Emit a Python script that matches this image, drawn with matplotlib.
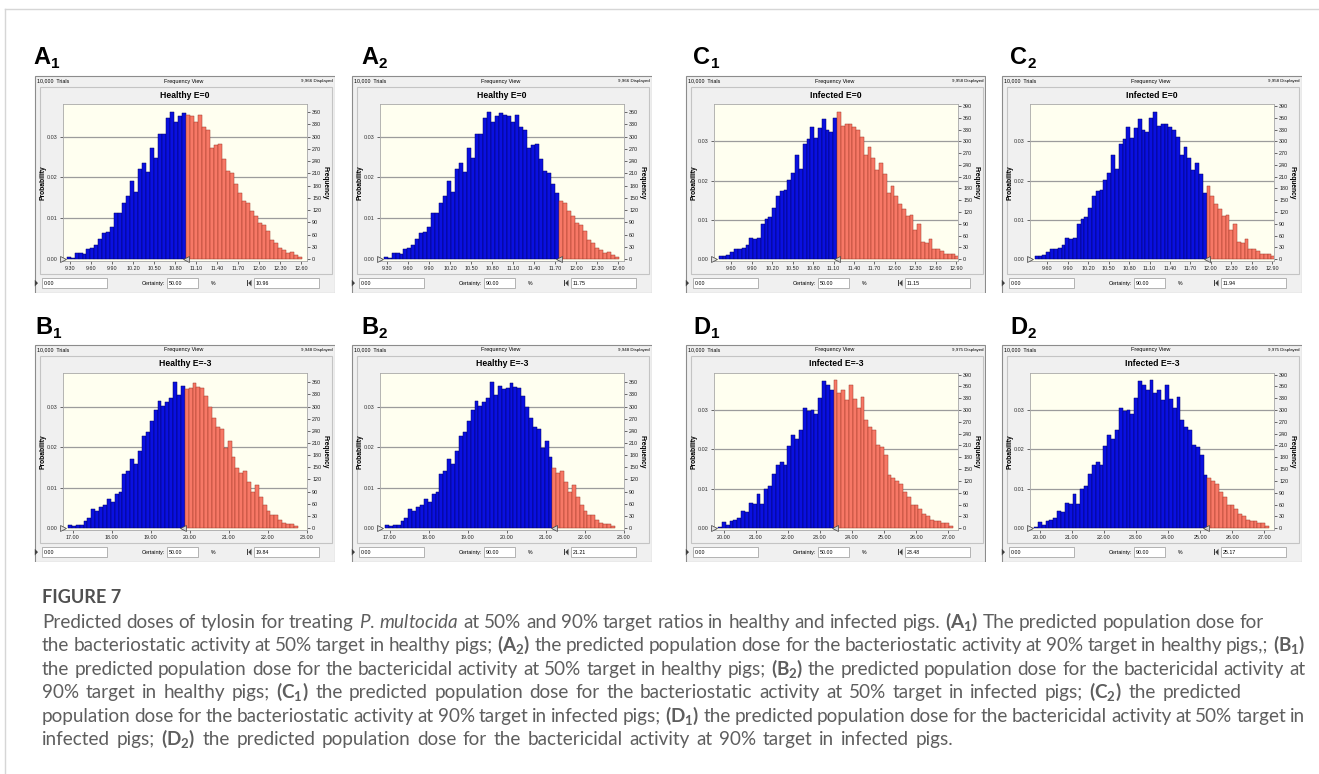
import matplotlib
matplotlib.use("Agg")
import matplotlib.pyplot as plt
from matplotlib import font_manager as fm
from matplotlib.lines import Line2D
from matplotlib.patches import Rectangle, Polygon
from matplotlib.ticker import FormatStrFormatter

healthy_e0 = [4, 3, 15, 16, 13, 24, 28, 35, 48, 63, 66, 78, 112, 112, 138, 155, 191, 165, 221, 235,
              213, 272, 248, 306, 306, 346, 360, 337, 350, 358,
              352, 350, 337, 352, 323, 316, 272, 280, 281, 246, 216, 212, 185, 163, 143, 138, 117,
              105, 89, 84, 70, 46, 40, 28, 21, 16, 18, 10, 4]
healthy_e0_bins = (9.25, 0.057)      # first bin edge, bin width

healthy_em3 = [7, 5, 7, 8, 17, 24, 46, 42, 52, 57, 72, 64, 85, 89, 134, 141, 171, 159, 190, 227,
               237, 264, 291, 315, 301, 311, 322, 362, 328, 350,
               343, 346, 358, 348, 346, 325, 298, 272, 250, 245, 198, 214, 176, 148, 137, 142, 115,
               90, 106, 76, 57, 43, 33, 32, 19, 13, 9, 10, 5]
healthy_em3_bins = (16.875, 0.1)

infected_e0 = [7, 8, 10, 17, 25, 27, 28, 36, 53, 52, 55, 90, 102, 108, 129, 162, 174, 175, 202, 219,
               264, 229, 294, 305, 336, 308, 333, 356, 329, 324, 360,
               375, 339, 343, 345, 337, 328, 311, 264, 286, 258, 227, 244, 216, 168, 185, 161, 141,
               127, 110, 113, 74, 89, 44, 41, 51, 25, 25, 21, 14, 12, 14, 7]
infected_e0_bins = (9.415, 0.056)

infected_em3 = [4, 16, 8, 17, 21, 25, 44, 41, 65, 62, 87, 62, 99, 108, 137, 161, 169, 161, 209, 236,
                227, 250, 305, 297, 299, 290, 330, 373, 364, 352,
                375, 343, 350, 326, 364, 328, 305, 333, 275, 258, 250, 210, 206, 186, 136, 127, 119,
                113, 93, 79, 59, 59, 49, 36, 31, 20, 18, 19, 12, 12, 6]
infected_em3_bins = (19.826, 0.12)

trials = 10000
displayed = {"healthy_e0": "9,966", "healthy_em3": "9,948", "infected_e0": "9,958", "infected_em3": "9,975"}
titles = {"healthy_e0": "Healthy E=0", "healthy_em3": "Healthy E=-3",
          "infected_e0": "Infected E=0", "infected_em3": "Infected E=-3"}
xticks = {"healthy_e0": [9.30 + 0.3 * i for i in range(12)],
          "infected_e0": [9.60 + 0.3 * i for i in range(12)],
          "healthy_em3": [17.0 + i for i in range(7)],
          "infected_em3": [20.0 + i for i in range(8)]}
xlims = {"healthy_e0": (9.195, 12.69), "infected_e0": (9.34, 12.93),
         "healthy_em3": (16.74, 23.02), "infected_em3": (19.69, 27.31)}
freq_ticks = {"healthy_e0": list(range(0, 361, 30)), "healthy_em3": list(range(0, 361, 30)),
              "infected_e0": list(range(0, 391, 30)), "infected_em3": list(range(0, 391, 30))}
ytops = {"healthy_e0": 380, "healthy_em3": 383, "infected_e0": 395, "infected_em3": 394}
prob_ticks = [0.00, 0.01, 0.02, 0.03]

# panel tag, subscript, dataset, certainty (%), cut value
panels = [("A", "1", "healthy_e0", "50.00", 10.96), ("A", "2", "healthy_e0", "90.00", 11.75),
          ("C", "1", "infected_e0", "50.00", 11.15), ("C", "2", "infected_e0", "90.00", 11.94),
          ("B", "1", "healthy_em3", "50.00", 19.84), ("B", "2", "healthy_em3", "90.00", 21.21),
          ("D", "1", "infected_em3", "50.00", 23.48), ("D", "2", "infected_em3", "90.00", 25.17)]
data = {"healthy_e0": (healthy_e0, healthy_e0_bins), "healthy_em3": (healthy_em3, healthy_em3_bins),
        "infected_e0": (infected_e0, infected_e0_bins), "infected_em3": (infected_em3, infected_em3_bins)}

caption_title = "FIGURE 7"
caption_lines = [
    "Predicted doses of tylosin for treating $\\mathit{P.}$ $\\mathit{multocida}$ at 50% and 90% target ratios in healthy and infected pigs. $\\mathbf{(A_1)}$ The predicted population dose for",
    "the bacteriostatic activity at 50% target in healthy pigs; $\\mathbf{(A_2)}$ the predicted population dose for the bacteriostatic activity at 90% target in healthy pigs,; $\\mathbf{(B_1)}$",
    "the predicted population dose for the bactericidal activity at 50% target in healthy pigs; $\\mathbf{(B_2)}$ the predicted population dose for the bactericidal activity at",
    "90% target in healthy pigs; $\\mathbf{(C_1)}$ the predicted population dose for the bacteriostatic activity at 50% target in infected pigs; $\\mathbf{(C_2)}$ the predicted",
    "population dose for the bacteriostatic activity at 90% target in infected pigs; $\\mathbf{(D_1)}$ the predicted population dose for the bactericidal activity at 50% target in",
    "infected pigs; $\\mathbf{(D_2)}$ the predicted population dose for the bactericidal activity at 90% target in infected pigs.",
]
line_ends = [1264, 1305, 1305, 1241, 1305, 953]

# ---------------------------------------------------------------------------
names = {f.name for f in fm.fontManager.ttflist}
cap_font = next((n for n in ["Lato", "Open Sans", "Noto Sans", "Liberation Sans"] if n in names),
                "DejaVu Sans")
ui_font = "Liberation Sans" if "Liberation Sans" in names else "DejaVu Sans"
plt.rcParams["font.family"] = [ui_font, "DejaVu Sans"]
plt.rcParams["mathtext.fontset"] = "custom"
plt.rcParams["mathtext.rm"] = cap_font
plt.rcParams["mathtext.it"] = cap_font + ":italic"
plt.rcParams["mathtext.bf"] = cap_font + ":bold"

W, H = 1319, 774
fig = plt.figure(figsize=(W / 100, H / 100), dpi=100)
fig.patch.set_facecolor("white")


def rect(x, y, w, h):
    return [x / W, 1 - (y + h) / H, w / W, h / H]


# outer frame of the figure
fig.add_artist(Line2D([5 / W, 1], [1 - 9 / H, 1 - 9 / H], color="#D6D6D6", lw=1))
fig.add_artist(Line2D([5 / W, 5 / W], [0, 1 - 9 / H], color="#D6D6D6", lw=1))

col_x = {"A": [34, 351], "C": [685, 1001], "B": [34, 351], "D": [685, 1001]}
row_y = {"A": 75, "C": 75, "B": 344, "D": 344}
BLUE, BLUE_E = "#0A10E0", "#000066"
RED, RED_E = "#F77866", "#A03828"

for tag, sub, key, cert, cut in panels:
    x0 = col_x[tag][int(sub) - 1]
    y0 = row_y[tag]
    ww, wh = 301, 218
    counts, (start, width) = data[key]

    bg = fig.add_axes(rect(x0, y0, ww, wh))
    bg.set_xlim(0, ww)
    bg.set_ylim(wh, 0)
    bg.axis("off")
    bg.add_patch(Rectangle((0.5, 0.5), ww - 1, wh - 1, fc="#F0F0F0", ec="#8C8C8C", lw=0.8))
    bg.add_patch(Rectangle((6, 11.7), 292, 187.3, fc="#F0F0F0", ec="#C4C4C4", lw=0.8))
    bg.text(2.7, 6, "{:,}  Trials".format(trials), fontsize=3.8, va="center", ha="left")
    bg.text(150, 6, "Frequency View", fontsize=4.0, va="center", ha="center")
    bg.text(298.5, 6, displayed[key] + " Displayed", fontsize=3.2, va="center", ha="right")
    bg.text(151, 20, titles[key], fontsize=6.2, weight="bold", va="center", ha="center")
    bg.text(9.3, 108, "Probability", rotation=90, fontsize=4.8, weight="bold", va="center", ha="center")
    bg.text(291, 108, "Frequency", rotation=270, fontsize=4.8, weight="bold", va="center", ha="center")

    for bx0, bx1, txt in [(7.7, 72.7, "0.00"), (132.7, 164.3, cert), (220, 285.3, "%.2f" % cut)]:
        bg.add_patch(Rectangle((bx0, 203), bx1 - bx0, 10, fc="white", ec="#A8A8A8", lw=0.6))
        bg.text(bx0 + 2, 208.2, txt, fontsize=3.8, va="center", ha="left")
    bg.text(131, 208.2, "Certainty:", fontsize=4.0, va="center", ha="right")
    bg.text(179.3, 208.2, "%", fontsize=3.8, va="center", ha="center")
    bg.add_patch(Polygon([[0.8, 204.8], [0.8, 211.4], [4.0, 208.1]], fc="#404040", ec="none"))
    bg.add_patch(Polygon([[217.5, 204.8], [217.5, 211.4], [214.3, 208.1]], fc="#404040", ec="none"))
    bg.add_patch(Rectangle((213.3, 204.8), 0.7, 6.6, fc="#404040", ec="none"))

    ax = fig.add_axes(rect(x0 + 28.7, y0 + 29, 244.6, 156.7))
    ax.set_facecolor("#FFFFF0")
    lefts = [start + i * width for i in range(len(counts))]
    red = [l + width / 2 > cut for l in lefts]
    ax.bar(lefts, counts, width=width, align="edge",
           color=[RED if r else BLUE for r in red],
           edgecolor=[RED_E if r else BLUE_E for r in red], linewidth=0.35, zorder=2)
    for q in prob_ticks[1:]:
        ax.axhline(q * trials, color="#9C9C9C", lw=0.9, zorder=0.5)
    ax.set_xlim(*xlims[key])
    ax.set_ylim(-4, ytops[key])
    ax.set_xticks(xticks[key])
    ax.xaxis.set_major_formatter(FormatStrFormatter("%.2f"))
    ax.yaxis.tick_right()
    ax.set_yticks(freq_ticks[key])
    ax.tick_params(axis="both", labelsize=3.9, length=2, width=0.5, pad=1.5,
                   colors="#303030", labelcolor="#202020")
    for s in ax.spines.values():
        s.set_color("#A8A8A8")
        s.set_linewidth(0.6)
    sec = ax.secondary_yaxis("left", functions=(lambda f: f / trials, lambda q: q * trials))
    sec.set_yticks(prob_ticks)
    sec.yaxis.set_major_formatter(FormatStrFormatter("%.2f"))
    sec.tick_params(labelsize=3.9, length=2, width=0.5, pad=1.5, colors="#303030")
    sec.spines["left"].set_visible(False)
    ax.plot([xlims[key][0]], [0], marker=">", ms=4.5, mfc="#E0E0E0", mec="#404040", mew=0.5,
            clip_on=False, zorder=6)
    ax.plot([cut], [0], marker="<", ms=4.5, mfc="#D0D0D0", mec="#404040", mew=0.5,
            clip_on=False, zorder=6)

    # panel label
    lx = {"A": [33, 361], "B": [35, 361], "C": [693, 1010], "D": [693, 1010]}[tag][int(sub) - 1]
    ly = 64 if tag in "AC" else 334
    fig.text(lx / W, 1 - ly / H, tag, fontsize=17, weight="bold", family=ui_font, va="baseline")
    fig.text((lx + 17.5) / W, 1 - (ly + 4) / H, sub, fontsize=11, weight="bold", family=ui_font,
             va="baseline")

# caption
r = fig.canvas.get_renderer()


def width_of(s, size, **kw):
    t = fig.text(0, 0, s, fontsize=size, family=cap_font, **kw)
    w = t.get_window_extent(renderer=r).width
    t.remove()
    return w


# font size so that the lines, set with normal spaces, fill their measured lengths on average
sp10 = width_of("x x", 10) - width_of("xx", 10)
nat = sum(sum(width_of(w, 10) for w in ln.split(" ")) + sp10 * (len(ln.split(" ")) - 1)
          for ln in caption_lines)
size = 10 * sum(e - 42 for e in line_ends) / nat

ft = 13 * 79 / width_of(caption_title, 13, weight="bold")
fig.text(42 / W, 1 - 603 / H, caption_title, fontsize=ft, weight="bold", family=cap_font,
         color="#505050", va="baseline")

grey = "#5E5E5E"
for i, line in enumerate(caption_lines):
    words = line.split(" ")
    widths = [width_of(w, size) for w in words]
    gap = (line_ends[i] - 42 - sum(widths)) / (len(words) - 1)
    base = 628 + i * 23.4
    x = 42
    for w, wd in zip(words, widths):
        fig.text(x / W, 1 - base / H, w, fontsize=size, family=cap_font, color=grey, va="baseline")
        x += wd + gap

fig.savefig("out.png", dpi=100, facecolor="white")
